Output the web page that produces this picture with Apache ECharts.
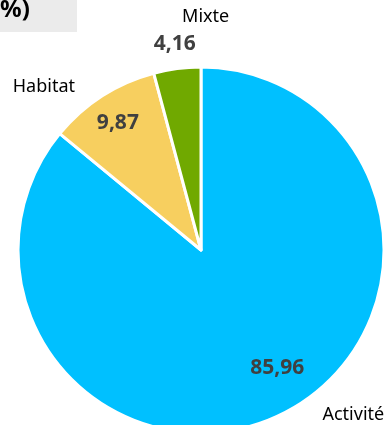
<!DOCTYPE html>
<html>
<head>
<meta charset="utf-8">
<script src="https://cdn.jsdelivr.net/npm/echarts@6/dist/echarts.min.js"></script>
<style>
html,body{margin:0;padding:0;background:#fff;}
#chart{width:386px;height:425px;}
</style>
</head>
<body>
<div id="chart"></div>
<script>
var categories = ['Activité', 'Habitat', 'Mixte'];
var values = [85.96, 9.87, 4.16];
var colors = ['#00C0FF', '#F7CF5F', '#70A900'];
var titleText = '%)';

// label nudges (style only)
var valueNudge = [[36, 33], [-32, -48], [-14, -112]];
var nameNudge = [[112, 79], [-106, -84], [17, -139]];

function fmt(v) { return v.toFixed(2).replace('.', ','); }

var data = categories.map(function (c, i) {
  return { name: c, value: values[i], itemStyle: { color: colors[i] } };
});
var dataNames = categories.map(function (c, i) {
  return { name: c, value: values[i] };
});

var chart = echarts.init(document.getElementById('chart'), null, { renderer: 'canvas' });
chart.setOption({
  animation: false,
  graphic: [
    { type: 'rect', left: 0, top: 0, shape: { width: 77, height: 32 }, style: { fill: '#EBEBEB' } },
    { type: 'text', left: 0, top: -2, style: { text: titleText, font: 'bold 24px "Noto Sans"', fill: '#000' } }
  ],
  series: [
    {
      type: 'pie',
      center: [201, 250],
      radius: 183,
      startAngle: 90,
      clockwise: true,
      avoidLabelOverlap: false,
      itemStyle: { borderColor: '#fff', borderWidth: 3 },
      label: {
        show: true,
        position: 'inside',
        formatter: function (p) { return fmt(p.value); },
        fontFamily: 'Noto Sans',
        fontWeight: 'bold',
        fontSize: 21,
        color: '#404040'
      },
      labelLine: { show: false },
      labelLayout: function (p) {
        var n = valueNudge[p.dataIndex];
        return { dx: n[0], dy: n[1] };
      },
      emphasis: { disabled: true },
      data: data
    },
    {
      type: 'pie',
      center: [201, 250],
      radius: 183,
      startAngle: 90,
      clockwise: true,
      silent: true,
      avoidLabelOverlap: false,
      itemStyle: { color: 'rgba(0,0,0,0)', borderWidth: 0 },
      label: {
        show: true,
        position: 'inside',
        formatter: '{b}',
        fontFamily: 'Noto Sans',
        fontSize: 18,
        color: '#000'
      },
      labelLine: { show: false },
      labelLayout: function (p) {
        var n = nameNudge[p.dataIndex];
        return { dx: n[0], dy: n[1] };
      },
      emphasis: { disabled: true },
      data: dataNames
    }
  ]
});
</script>
</body>
</html>
